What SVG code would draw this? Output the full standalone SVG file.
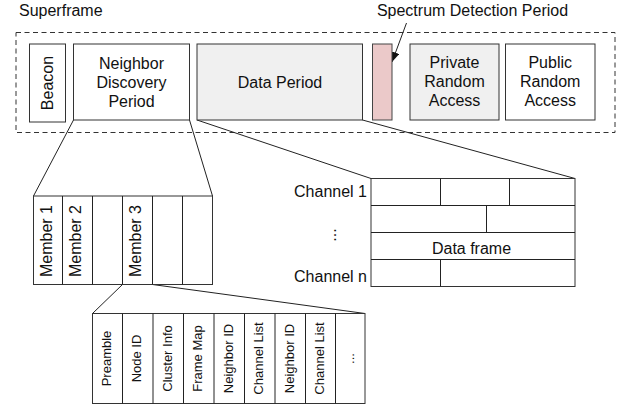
<svg xmlns="http://www.w3.org/2000/svg" width="621" height="409" viewBox="0 0 621 409">
<style>
text{font-family:"Liberation Sans",Arial,Helvetica,sans-serif;font-size:16px;fill:#111}
.box{fill:#fff;stroke:#333;stroke-width:1}
.gray{fill:#f0f0f0;stroke:#333;stroke-width:1}
.red{fill:#ebc9c9;stroke:#444;stroke-width:1}
.ln{stroke:#222;stroke-width:1;fill:none}
.sm{font-size:13px}
.c{text-anchor:middle}
.v{text-anchor:middle;dominant-baseline:central}
</style>
<defs>
<marker id="ah" markerUnits="userSpaceOnUse" markerWidth="12" markerHeight="10" refX="10" refY="4" orient="auto">
<path d="M0,0 L10,4 L0,8 Z" fill="#111"/>
</marker>
</defs>
<rect width="621" height="409" fill="#fff"/>

<g id="superframe">
<text x="19" y="16">Superframe</text>
<rect x="16" y="32.5" width="599" height="100" fill="none" stroke="#333" stroke-width="1" stroke-dasharray="5,3.5"/>
</g>

<g id="connectors">
<line class="ln" x1="406.5" y1="23" x2="392" y2="62" marker-end="url(#ah)"/>
<line class="ln" x1="73.5" y1="120" x2="33.5" y2="196"/>
<line class="ln" x1="189.5" y1="120" x2="212.5" y2="196"/>
<line class="ln" x1="197" y1="120" x2="371" y2="178.5"/>
<line class="ln" x1="362.5" y1="120" x2="575" y2="178.5"/>
<line class="ln" x1="122.5" y1="284.5" x2="92.5" y2="313.5"/>
<line class="ln" x1="152.5" y1="284.5" x2="365" y2="313.5"/>
</g>

<g id="beacon">
<rect class="box" x="29.5" y="44" width="36" height="78"/>
<text class="v" transform="translate(47.5,83) rotate(-90)">Beacon</text>
</g>
<g id="ndp">
<rect class="box" x="73.5" y="44" width="116" height="76"/>
<text class="c" x="131.5" y="68.5">Neighbor</text>
<text class="c" x="131.5" y="87.5">Discovery</text>
<text class="c" x="131.5" y="106.5">Period</text>
</g>
<g id="data-period">
<rect class="gray" x="197" y="44" width="165.5" height="76"/>
<text class="c" x="280" y="87.5">Data Period</text>
</g>
<g id="spectrum">
<rect class="red" x="372.5" y="44" width="19.5" height="76"/>
<text class="c" x="472.5" y="16">Spectrum Detection Period</text>
</g>
<g id="private">
<rect class="gray" x="410" y="44" width="89" height="76"/>
<text class="c" x="454.5" y="68">Private</text>
<text class="c" x="454.5" y="87">Random</text>
<text class="c" x="454.5" y="106">Access</text>
</g>
<g id="public">
<rect class="box" x="505.5" y="44" width="89.5" height="76"/>
<text class="c" x="550.2" y="68">Public</text>
<text class="c" x="550.2" y="87">Random</text>
<text class="c" x="550.2" y="106">Access</text>
</g>

<g id="members">
<rect class="box" x="33.5" y="196" width="179" height="88.5"/>
<line class="ln" x1="62.5" y1="196" x2="62.5" y2="284.5"/>
<line class="ln" x1="92.5" y1="196" x2="92.5" y2="284.5"/>
<line class="ln" x1="122.5" y1="196" x2="122.5" y2="284.5"/>
<line class="ln" x1="152.5" y1="196" x2="152.5" y2="284.5"/>
<line class="ln" x1="182.5" y1="196" x2="182.5" y2="284.5"/>
<text class="v" transform="translate(46,241) rotate(-90)">Member 1</text>
<text class="v" transform="translate(75.5,241) rotate(-90)">Member 2</text>
<text class="v" transform="translate(135.5,241) rotate(-90)">Member 3</text>
</g>

<g id="channels">
<rect class="box" x="371" y="178.5" width="204" height="108"/>
<line class="ln" x1="371" y1="205.5" x2="575" y2="205.5"/>
<line class="ln" x1="371" y1="232.5" x2="575" y2="232.5"/>
<line class="ln" x1="371" y1="259.5" x2="575" y2="259.5"/>
<line class="ln" x1="440.5" y1="178.5" x2="440.5" y2="205.5"/>
<line class="ln" x1="509.5" y1="178.5" x2="509.5" y2="205.5"/>
<line class="ln" x1="486.5" y1="205.5" x2="486.5" y2="232.5"/>
<line class="ln" x1="440.5" y1="259.5" x2="440.5" y2="286.5"/>
<text class="c" x="471.5" y="253.5">Data frame</text>
<text x="367" y="197" text-anchor="end">Channel 1</text>
<text x="367" y="282" text-anchor="end">Channel n</text>
<text class="v" transform="translate(330,235) rotate(-90)">...</text>
</g>

<g id="fields">
<rect class="box" x="92.5" y="313.5" width="272.5" height="90"/>
<line class="ln" x1="122.5" y1="313.5" x2="122.5" y2="403.5"/>
<line class="ln" x1="153" y1="313.5" x2="153" y2="403.5"/>
<line class="ln" x1="183.5" y1="313.5" x2="183.5" y2="403.5"/>
<line class="ln" x1="214" y1="313.5" x2="214" y2="403.5"/>
<line class="ln" x1="244.5" y1="313.5" x2="244.5" y2="403.5"/>
<line class="ln" x1="275" y1="313.5" x2="275" y2="403.5"/>
<line class="ln" x1="305.5" y1="313.5" x2="305.5" y2="403.5"/>
<line class="ln" x1="335.5" y1="313.5" x2="335.5" y2="403.5"/>
<text class="v sm" transform="translate(106,358.5) rotate(-90)">Preamble</text>
<text class="v sm" transform="translate(136.5,358.5) rotate(-90)">Node ID</text>
<text class="v sm" transform="translate(167,358.5) rotate(-90)">Cluster Info</text>
<text class="v sm" transform="translate(197.5,358.5) rotate(-90)">Frame Map</text>
<text class="v sm" transform="translate(228,358.5) rotate(-90)">Neighbor ID</text>
<text class="v sm" transform="translate(258.5,358.5) rotate(-90)">Channel List</text>
<text class="v sm" transform="translate(289,358.5) rotate(-90)">Neighbor ID</text>
<text class="v sm" transform="translate(319.5,358.5) rotate(-90)">Channel List</text>
<text class="v sm" transform="translate(349.5,358.5) rotate(-90)">...</text>
</g>
</svg>
